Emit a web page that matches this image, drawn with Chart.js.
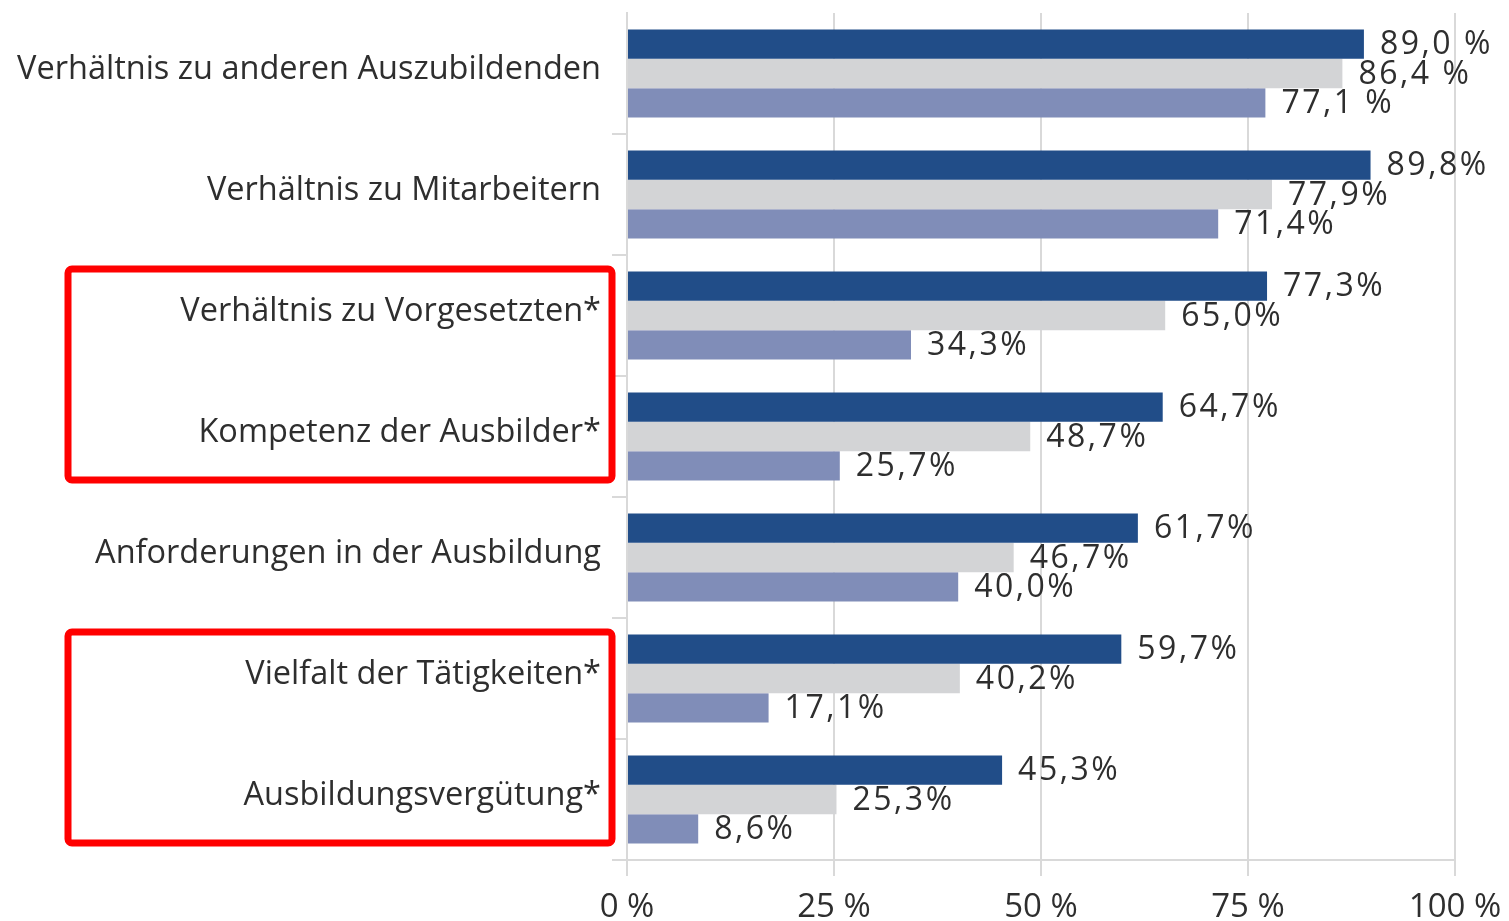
<!DOCTYPE html>
<html>
<head>
<meta charset="utf-8">
<script src="https://cdn.jsdelivr.net/npm/chart.js@4.4.0/dist/chart.umd.min.js"></script>
<style>
	html, body { margin: 0; padding: 0; background: #fff; }
	#wrap { width: 1509px; height: 921px; }
</style>
</head>
<body>
<div id="wrap"><canvas id="mycanvas"></canvas></div>
<script>
var categories = [
	'Verhältnis zu anderen Auszubildenden',
	'Verhältnis zu Mitarbeitern',
	'Verhältnis zu Vorgesetzten*',
	'Kompetenz der Ausbilder*',
	'Anforderungen in der Ausbildung',
	'Vielfalt der Tätigkeiten*',
	'Ausbildungsvergütung*'
];
var seriesDark = [89.0, 89.8, 77.3, 64.7, 61.7, 59.7, 45.3];
var seriesGray = [86.4, 77.9, 65.0, 48.7, 46.7, 40.2, 25.3];
var seriesLight = [77.1, 71.4, 34.3, 25.7, 40.0, 17.1, 8.6];
var xTicks = [0, 25, 50, 75, 100];
// first row prints "89,0 %" with a space, the rest "89,8%"
var percentSep = [' %', '%', '%', '%', '%', '%', '%'];
var boxedGroups = [[2, 3], [5, 6]];

var textColor = '#2e2e2e';
var gridColor = '#d9d9d9';

var valueLabels = {
	id: 'valueLabels',
	afterDatasetsDraw: function(chart) {
		var ctx = chart.ctx;
		ctx.save();
		ctx.font = '32px "Open Sans"';
		ctx.fillStyle = textColor;
		ctx.textAlign = 'left';
		ctx.textBaseline = 'middle';
		ctx.letterSpacing = '2.5px';
		chart.data.datasets.forEach(function(ds, di) {
			var meta = chart.getDatasetMeta(di);
			meta.data.forEach(function(bar, i) {
				var txt = ds.data[i].toFixed(1).replace('.', ',') + percentSep[i];
				ctx.fillText(txt, bar.x + 16, bar.y + 1);
			});
		});
		ctx.restore();
	}
};

var redBoxes = {
	id: 'redBoxes',
	afterDraw: function(chart) {
		var ctx = chart.ctx;
		var y = chart.scales.y;
		var step = y.getPixelForValue(1) - y.getPixelForValue(0);
		ctx.save();
		ctx.strokeStyle = '#ff0000';
		ctx.lineWidth = 7;
		ctx.lineJoin = 'round';
		boxedGroups.forEach(function(g) {
			var top = y.getPixelForValue(g[0]) - step / 2 + 14;
			var bottom = y.getPixelForValue(g[1]) + step / 2 - 17;
			var left = 68;
			var right = chart.chartArea.left - 15;
			ctx.beginPath();
			ctx.roundRect(left, top, right - left, bottom - top, 4);
			ctx.stroke();
		});
		ctx.restore();
	}
};

var chartdata = {
	labels: categories,
	datasets: [
		{ label: 'A', data: seriesDark, backgroundColor: '#214d88' },
		{ label: 'B', data: seriesGray, backgroundColor: '#d3d4d6' },
		{ label: 'C', data: seriesLight, backgroundColor: '#808db8' }
	]
};

var ctx = document.getElementById('mycanvas');

var barGraph = new Chart(ctx, {
	type: 'bar',
	data: chartdata,
	plugins: [valueLabels, redBoxes],
	options: {
		indexAxis: 'y',
		responsive: true,
		maintainAspectRatio: false,
		animation: false,
		layout: { padding: { top: 13, right: 54, bottom: 0, left: 0 } },
		datasets: {
			bar: { categoryPercentage: 0.727, barPercentage: 1.0 }
		},
		plugins: {
			legend: { display: false },
			tooltip: { enabled: false }
		},
		scales: {
			x: {
				min: 0,
				max: 100,
				afterBuildTicks: function(scale) {
					scale.ticks = xTicks.map(function(v) { return { value: v }; });
				},
				afterFit: function(scale) {
					scale.height = 61;
					scale.paddingLeft = 0;
					scale.paddingRight = 0;
				},
				grid: { color: gridColor, lineWidth: 2, tickLength: 16 },
				border: { display: true, color: gridColor, width: 2 },
				ticks: {
					color: textColor,
					font: { family: 'Open Sans', size: 33 },
					padding: 12,
					maxRotation: 0,
					callback: function(v) { return v + ' %'; }
				}
			},
			y: {
				afterFit: function(scale) {
					scale.width = 627;
					scale.paddingTop = 0;
					scale.paddingBottom = 0;
				},
				grid: {
					drawOnChartArea: false,
					tickLength: 15,
					lineWidth: 2,
					color: function(c) { return c.index === 0 ? 'rgba(0,0,0,0)' : gridColor; }
				},
				border: { display: true, color: gridColor, width: 2 },
				ticks: {
					color: textColor,
					font: { family: 'Open Sans', size: 32.5 },
					padding: 11,
					labelOffset: -4
				}
			}
		}
	}
});
</script>
</body>
</html>
